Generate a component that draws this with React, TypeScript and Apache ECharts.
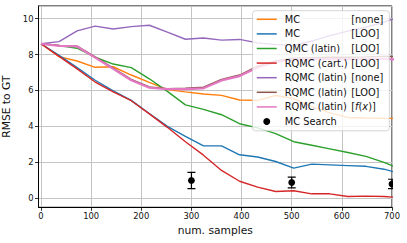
import React, { useEffect, useRef } from "react";
import * as echarts from "echarts";

const samples = [0, 36, 72, 108, 144, 180, 216, 252, 288, 324, 360, 396, 432, 468, 504, 540, 576, 612, 648, 684, 720];

const mcNone = [8.6, 7.88, 7.64, 7.29, 7.32, 6.86, 6.45, 6.05, 5.92, 5.8, 5.73, 5.47, 5.45, 5.72, 5.55, 5.1, 4.75, 4.5, 4.47, 4.45, 4.45];
const mcLoo = [8.6, 7.95, 7.27, 6.57, 5.98, 5.45, 4.72, 4.0, 3.45, 2.92, 2.92, 2.42, 2.3, 2.05, 1.68, 1.9, 1.86, 1.82, 1.78, 1.62, 1.35];
const qmcLatinLoo = [8.6, 8.5, 8.35, 7.85, 7.47, 7.27, 6.65, 5.95, 5.2, 4.95, 4.65, 4.15, 3.92, 3.6, 3.15, 2.95, 2.75, 2.55, 2.33, 2.0, 1.6];
const rqmcCartLoo = [8.6, 7.9, 7.2, 6.47, 5.92, 5.43, 4.7, 3.95, 3.15, 2.4, 1.55, 0.95, 0.62, 0.38, 0.42, 0.25, 0.25, 0.1, 0.12, 0.1, 0.03];
const rqmcLatinNone = [8.6, 8.72, 9.32, 9.58, 9.42, 9.55, 9.63, 9.25, 8.85, 8.92, 8.8, 8.84, 8.65, 8.55, 8.5, 8.75, 9.05, 9.3, 9.52, 9.8, 10.15];
const rqmcLatinLoo = [8.6, 8.5, 8.47, 7.87, 7.24, 6.62, 6.2, 6.1, 6.12, 6.18, 6.62, 6.86, 7.35, 7.65, 7.8, 7.82, 7.85, 7.85, 7.87, 7.9, 7.88];
const rqmcLatinFx = [8.6, 8.48, 8.45, 7.83, 7.2, 6.57, 6.15, 6.07, 6.07, 6.12, 6.56, 6.8, 7.28, 7.6, 7.72, 7.74, 7.75, 7.74, 7.76, 7.75, 7.72];

const searchSamples = [300, 500, 700];
const searchMean = [0.99, 0.88, 0.8];
const searchErr = [0.45, 0.3, 0.26];

const lineSeriesDefs = [
  { name: "MC [none]", label: "{n|MC}{b|[none]}", data: mcNone, color: "#ff7f0e", width: 1.4 },
  { name: "MC [LOO]", label: "{n|MC}{b|[LOO]}", data: mcLoo, color: "#1f77b4", width: 1.4 },
  { name: "QMC (latin) [LOO]", label: "{n|QMC (latin)}{b|[LOO]}", data: qmcLatinLoo, color: "#2ca02c", width: 1.4 },
  { name: "RQMC (cart.) [LOO]", label: "{n|RQMC (cart.)}{b|[LOO]}", data: rqmcCartLoo, color: "#d62728", width: 1.4 },
  { name: "RQMC (latin) [none]", label: "{n|RQMC (latin)}{b|[none]}", data: rqmcLatinNone, color: "#9467bd", width: 1.4 },
  { name: "RQMC (latin) [LOO]", label: "{n|RQMC (latin)}{b|[LOO]}", data: rqmcLatinLoo, color: "#8c564b", width: 1.4 },
  { name: "RQMC (latin) [f(x)]", label: "{n|RQMC (latin)}{b|[}{i|f}{b|(}{i|x}{b|)]}", data: rqmcLatinFx, color: "#e377c2", width: 2.2 },
];

const FONT = "DejaVu Sans";

export default function App() {
  const ref = useRef<HTMLDivElement>(null);
  useEffect(() => {
    if (!ref.current) return;
    const chart = echarts.init(ref.current, null, { renderer: "svg" });
    const labelMap: Record<string, string> = {};
    lineSeriesDefs.forEach((d) => (labelMap[d.name] = d.label));
    labelMap["MC Search"] = "{n|MC Search}";

    const series: any[] = lineSeriesDefs.map((d) => ({
      type: "line",
      name: d.name,
      data: samples.map((x, i) => [x, d.data[i]]),
      symbol: "none",
      showSymbol: false,
      clip: true,
      lineStyle: { color: d.color, width: d.width },
      itemStyle: { color: d.color },
    }));

    series.push({
      type: "custom",
      name: "MC Search",
      clip: true,
      itemStyle: { color: "#000" },
      encode: { x: 0, y: 1 },
      data: searchSamples.map((x, i) => [x, searchMean[i], searchErr[i]]),
      renderItem: (params: any, api: any) => {
        const x = api.value(0);
        const m = api.value(1);
        const e = api.value(2);
        const c = api.coord([x, m]);
        const t = api.coord([x, m + e]);
        const b = api.coord([x, m - e]);
        const cap = 4;
        const st = { stroke: "#000", lineWidth: 1.2 };
        return {
          type: "group",
          children: [
            { type: "line", shape: { x1: c[0], y1: t[1], x2: c[0], y2: b[1] }, style: st },
            { type: "line", shape: { x1: c[0] - cap, y1: t[1], x2: c[0] + cap, y2: t[1] }, style: st },
            { type: "line", shape: { x1: c[0] - cap, y1: b[1], x2: c[0] + cap, y2: b[1] }, style: st },
            { type: "circle", shape: { cx: c[0], cy: c[1], r: 3.4 }, style: { fill: "#000" } },
          ],
        };
      },
    });

    chart.setOption({
      animation: false,
      textStyle: { fontFamily: FONT },
      grid: {
        left: 38.5,
        right: 15,
        top: 6,
        bottom: 35.7,
        show: true,
        borderColor: "#000",
        borderWidth: 1,
        backgroundColor: "transparent",
        containLabel: false,
        outerBoundsMode: "none",
      },
      legend: {
        orient: "vertical",
        left: 252.5,
        top: 10.7,
        padding: [2.6, 6, 3.3, 3.5],
        itemWidth: 20,
        itemHeight: 7,
        itemGap: 2.6,
        selectedMode: false,
        backgroundColor: "rgba(255,255,255,0.8)",
        borderColor: "#cccccc",
        borderWidth: 0.8,
        borderRadius: 3,
        lineStyle: { width: 1.5 },
        itemStyle: { opacity: 0 },
        data: [
          ...lineSeriesDefs.map((d) => ({ name: d.name })),
          { name: "MC Search", icon: "circle", itemStyle: { color: "#000", opacity: 1 } },
        ],
        formatter: (name: string) => labelMap[name] || name,
        textStyle: {
          fontFamily: FONT,
          fontSize: 9.8,
          color: "#111",
          lineHeight: 12,
          padding: [0, 0, 0, 3],
          rich: {
            n: { fontFamily: FONT, fontSize: 9.8, color: "#111", width: 66.5, lineHeight: 12 },
            b: { fontFamily: FONT, fontSize: 9.8, color: "#111", lineHeight: 12 },
            i: { fontFamily: FONT, fontSize: 9.8, color: "#111", fontStyle: "italic", lineHeight: 12 },
          },
        },
      },
      xAxis: {
        type: "value",
        min: -5,
        max: 700,
        splitNumber: 7,
        name: "num. samples",
        nameLocation: "middle",
        nameGap: 16,
        nameTextStyle: { fontFamily: FONT, fontSize: 10.7, color: "#111" },
        axisLine: { show: true, onZero: false, lineStyle: { color: "#000", width: 1 } },
        axisTick: { show: true, length: 3.5, lineStyle: { color: "#000", width: 0.8 } },
        axisLabel: { fontFamily: FONT, fontSize: 8.4, color: "#111", margin: 5, showMinLabel: false },
        splitLine: { show: true, lineStyle: { color: "#c4c4c4", width: 1 } },
      },
      yAxis: {
        type: "value",
        min: -0.5,
        max: 10.7,
        splitNumber: 5,
        name: "RMSE to GT",
        nameLocation: "middle",
        nameGap: 21,
        nameTextStyle: { fontFamily: FONT, fontSize: 10.7, color: "#111" },
        axisLine: { show: true, onZero: false, lineStyle: { color: "#000", width: 1 } },
        axisTick: { show: true, length: 3.5, lineStyle: { color: "#000", width: 0.8 } },
        axisLabel: { fontFamily: FONT, fontSize: 8.4, color: "#111", margin: 5, showMinLabel: false, showMaxLabel: false },
        splitLine: { show: true, lineStyle: { color: "#c4c4c4", width: 1 } },
      },
      series,
    });
    return () => chart.dispose();
  }, []);
  return (
    <div
      ref={ref}
      style={{ position: "fixed", left: 0, top: 0, width: 407, height: 243, background: "#fff" }}
    />
  );
}
